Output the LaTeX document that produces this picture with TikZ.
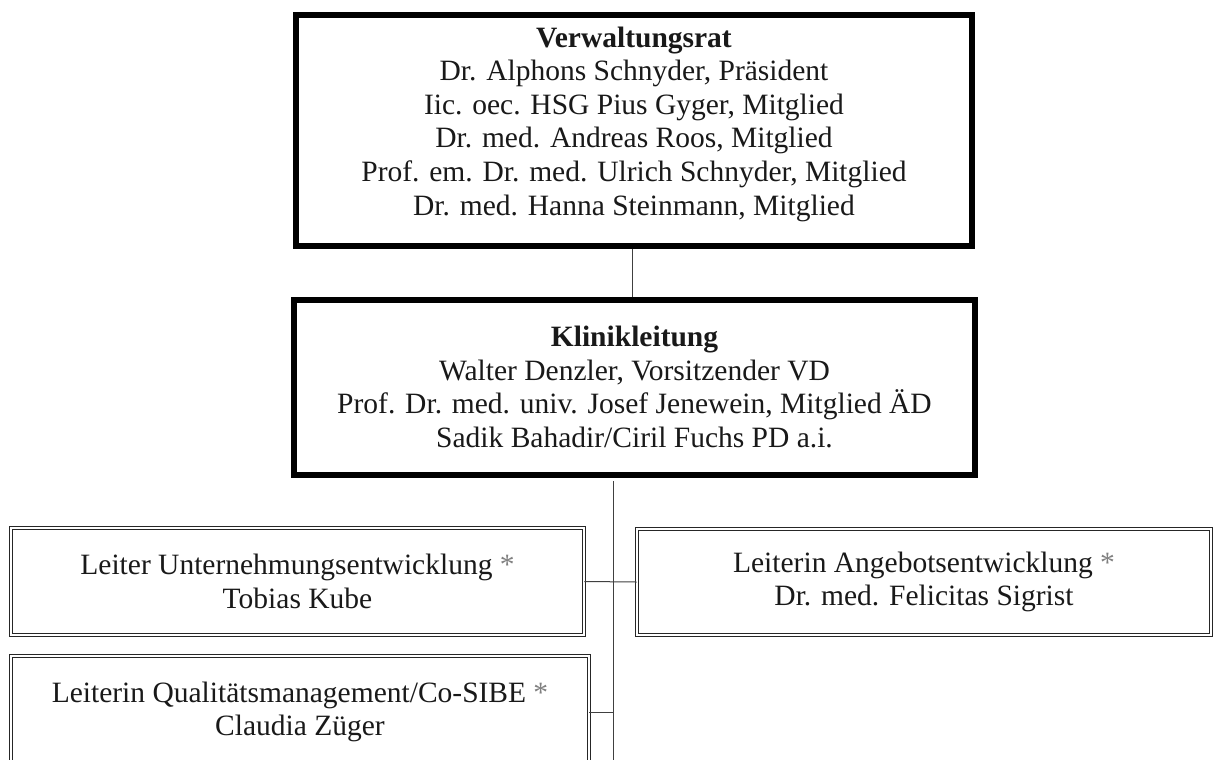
\documentclass[tikz,border=0pt]{standalone}
\usepackage{fontspec}
\setmainfont{Liberation Serif}
\begin{document}
\begin{tikzpicture}[x=1pt,y=-1pt,
  txt/.style={font=\fontsize{29.5}{33.6}\selectfont, text=black!90, align=center, inner sep=0pt},
  mainbox/.style={draw=black, line width=6pt, inner sep=0pt},
  subbox/.style={txt, draw=black!85, line width=0.9pt, double=white, double distance=1.8pt},
  conn/.style={draw=black!75, line width=1pt}]
\useasboundingbox (0,0) rectangle (1215,760);
\clip (0,0) rectangle (1215,760);
\fill[white] (0,0) rectangle (1215,760);
\node[mainbox, minimum width=676, minimum height=231] (vr) at (634,130.5) {};
\node[txt] (vrt) at (634,124)
 {\textbf{Verwaltungsrat}\\Dr. Alphons Schnyder, Präsident\\Iic. oec. HSG Pius Gyger, Mitglied\\Dr. med. Andreas Roos, Mitglied\\Prof. em. Dr. med. Ulrich Schnyder, Mitglied\\Dr. med. Hanna Steinmann, Mitglied};
\node[mainbox, minimum width=681, minimum height=175] (kl) at (634.5,387.5) {};
\node[txt] (klt) at (634.5,387)
 {\textbf{Klinikleitung}\\Walter Denzler, Vorsitzender VD\\Prof. Dr. med. univ. Josef Jenewein, Mitglied ÄD\\Sadik Bahadir/Ciril Fuchs PD a.i.};
\node[subbox, minimum width=573, minimum height=107] (ue) at (297.5,581.5)
 {Leiter Unternehmungsentwicklung {\color{black!50}*}\\Tobias Kube};
\node[subbox, minimum width=574, minimum height=106] (ae) at (924,582)
 {Leiterin Angebotsentwicklung {\color{black!50}*}\\Dr. med. Felicitas Sigrist};
\node[subbox, minimum width=578, minimum height=112] (qm) at (300,712)
 {Leiterin Qualitätsmanagement/Co-SIBE {\color{black!50}*}\\Claudia Züger};
\coordinate (t0) at (613,481);
\coordinate (t1) at (613,760);
\draw[conn] (vr.south -| 632,0) -- (kl.north -| 632,0);
\draw[conn] (t0) -- (t1);
\draw[conn] (ue.east) -- (ae.west);
\draw[conn] (qm.east) -- (qm.east -| t0);
\end{tikzpicture}
\end{document}
